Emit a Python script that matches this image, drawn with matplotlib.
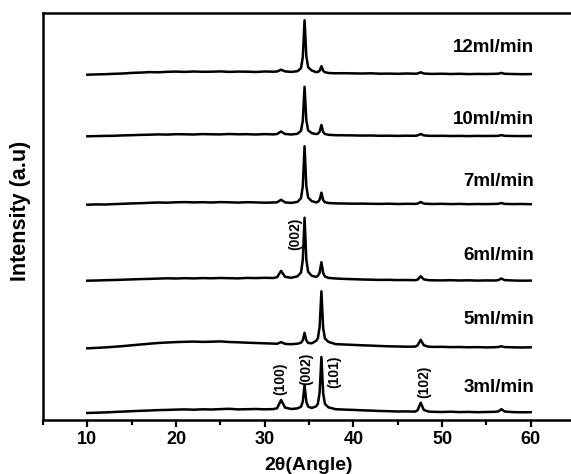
import matplotlib
matplotlib.use('Agg')  # Headless mode
import matplotlib.pyplot as plt
from matplotlib.ticker import MultipleLocator

plt.rcParams['font.family'] = ['Liberation Sans', 'DejaVu Sans']

# 2-theta grid (degrees) shared by every pattern
two_theta = [10, 11, 12, 13, 14, 15, 16, 17, 18, 19, 20, 21, 22, 23, 24, 25, 26, 27, 28, 29, 30, 31,
             31.4, 31.85, 32.3, 33.0, 33.7, 34.1, 34.3, 34.5, 34.7, 34.9, 35.3, 35.8, 36.0, 36.2,
             36.4, 36.6, 36.8, 37.2, 38.0,
             39, 40, 41, 42, 43, 44, 45, 46, 47,
             47.25, 47.6, 47.95, 48.5,
             49, 50, 51, 52, 53, 54, 55, 56,
             56.35, 56.7, 57.05,
             58, 59, 60]

flow_rates = ["3ml/min", "5ml/min", "6ml/min", "7ml/min", "10ml/min", "12ml/min"]

# intensities (a.u.), relative to each pattern's own baseline
i_3ml = [0, 0.3, 0.6, 1.0, 1.4, 1.8, 2.2, 2.5, 2.9, 3.1, 3.4, 3.6, 3.3, 3.7, 3.5, 3.9, 4.2, 3.6, 3.8, 4.0, 3.7, 3.9,
         4.8, 13, 5.4, 4.0, 4.6, 6.2, 11.5, 28, 11.2, 6.4, 5.0, 6.6, 9.2, 20.6,
         56, 19.6, 9.0, 5.6, 3.8,
         3.4, 3.1, 2.7, 2.4, 2.0, 1.8, 1.5, 1.6, 1.4,
         2.8, 10.3, 3.0, 1.4,
         1.2, 1.0, 1.3, 0.9, 1.1, 0.8, 1.0, 1.2,
         1.6, 3.8, 1.5,
         0.9, 0.7, 0.8]
i_5ml = [0, 0.4, 0.9, 1.5, 2.2, 3.0, 3.8, 4.6, 5.3, 5.8, 6.2, 6.5, 6.7, 6.4, 6.6, 6.9, 6.3, 6.0, 5.6, 5.3, 5.0, 4.7,
         4.5, 6.2, 4.4, 4.1, 4.6, 5.6, 8.0, 15.5, 7.8, 5.4, 5.0, 7.4, 10, 21.5,
         57, 20, 9.8, 6.4, 4.2,
         3.8, 3.4, 3.0, 2.7, 2.3, 2.0, 1.8, 1.6, 1.7,
         3.0, 8.5, 3.0, 1.6,
         1.4, 1.5, 1.2, 1.3, 1.0, 1.2, 0.9, 1.1,
         1.3, 2.0, 1.2,
         1.0, 0.8, 1.0]
i_6ml = [0, 0.2, 0.5, 0.7, 1.0, 1.3, 1.6, 1.8, 2.1, 2.4, 2.2, 2.5, 2.3, 2.6, 2.4, 2.7, 2.5, 2.3, 2.8, 2.6, 2.9, 2.7,
         3.5, 9.8, 3.9, 2.9, 4.4, 8.2, 21, 63, 21, 9, 5, 3.8, 4.8, 8,
         18.5, 7.6, 4.2, 2.8, 2.2,
         1.8, 1.5, 1.2, 1.0, 0.8, 0.9, 0.6, 0.7, 0.5,
         1.1, 4.5, 1.3, 0.5,
         0.4, 0.3, 0.5, 0.2, 0.4, 0.1, 0.3, 0.2,
         0.6, 2.2, 0.6,
         0.2, 0.0, 0.1]
i_7ml = [0, 0.3, 0.2, 0.6, 0.9, 1.3, 1.5, 1.9, 2.2, 2.0, 2.4, 2.6, 2.3, 2.5, 2.2, 2.6, 2.4, 2.1, 2.5, 2.3, 2.0, 2.2,
         2.4, 4.9, 2.3, 1.8, 2.8, 6.5, 18.5, 58.5, 18.6, 7.2, 3.6, 2.3, 2.8, 4.9,
         12, 4.6, 2.5, 1.7, 1.3,
         1.2, 1.0, 1.1, 0.9, 0.8, 1.0, 0.7, 0.9, 0.8,
         1.1, 2.7, 1.1, 0.8,
         0.7, 0.9, 0.6, 0.8, 0.5, 0.7, 0.6, 0.8,
         0.9, 1.7, 0.8,
         0.6, 0.7, 0.5]
i_10ml = [0, 0.2, 0.4, 0.5, 0.9, 1.1, 1.4, 1.6, 1.9, 1.7, 2.1, 2.0, 1.8, 2.2, 2.0, 1.9, 2.3, 2.0, 2.1, 1.8, 2.2, 1.9,
          2.3, 4.8, 2.3, 1.8, 2.5, 5.5, 15.5, 49.5, 16, 6.0, 3.2, 2.2, 2.6, 4.6,
          11.3, 4.3, 2.3, 1.5, 1.1,
          1.0, 0.9, 0.7, 0.8, 0.5, 0.6, 0.4, 0.6, 0.5,
          0.9, 2.3, 0.9, 0.5,
          0.4, 0.5, 0.3, 0.4, 0.2, 0.4, 0.3, 0.4,
          0.5, 1.2, 0.5,
          0.3, 0.2, 0.3]
i_12ml = [0, 0.3, 0.5, 0.9, 1.2, 1.8, 2.1, 2.6, 2.4, 2.9, 3.1, 2.8, 3.2, 2.9, 3.0, 3.3, 2.8, 3.1, 3.0, 2.7, 3.2, 3.0,
          3.2, 5.0, 3.3, 2.8, 3.5, 6.5, 17.5, 54.5, 18.5, 7.5, 4.2, 2.6, 2.7, 4.0,
          8.5, 4.0, 2.5, 1.7, 1.4,
          1.5, 1.3, 1.2, 1.4, 1.0, 1.1, 0.9, 1.2, 1.0,
          1.2, 2.4, 1.2, 0.9,
          0.8, 1.0, 0.7, 0.9, 0.6, 0.8, 0.7, 0.9,
          1.0, 1.8, 0.9,
          0.7, 0.5, 0.6]

patterns = [i_3ml, i_5ml, i_6ml, i_7ml, i_10ml, i_12ml]

# vertical stacking of the patterns
offsets = [7, 71.7, 139.3, 215.3, 283.7, 345.3]
label_y = [32, 100, 165, 238, 300, 372]

fig = plt.figure(figsize=(5.71, 4.74), dpi=100)
ax = fig.add_axes([43 / 571, 54 / 474, 532 / 571, 407 / 474])

for name, vals, off, ly in zip(flow_rates, patterns, offsets, label_y):
    ax.plot(two_theta, [v + off for v in vals], color='black', linewidth=1.8)
    ax.text(60.4, ly, name, ha='right', va='center', fontsize=13.5, fontweight='bold')

# Miller indices
hkl_style = dict(rotation=90, ha='center', va='center', fontsize=10, fontweight='bold')
ax.text(33.42, 186, "(002)", **hkl_style)
ax.text(31.72, 41, "(100)", **hkl_style)
ax.text(34.66, 51, "(002)", **hkl_style)
ax.text(37.83, 48, "(101)", **hkl_style)
ax.text(47.97, 38, "(102)", **hkl_style)

ax.set_xlim(5, 65)
ax.set_ylim(0, 407)
ax.xaxis.set_major_locator(MultipleLocator(10))
ax.xaxis.set_minor_locator(MultipleLocator(5))
ax.set_xticks([10, 20, 30, 40, 50, 60])
ax.set_yticks([])
ax.tick_params(axis='x', which='major', direction='out', length=5, width=1.6, pad=3, labelsize=13)
ax.tick_params(axis='x', which='minor', direction='out', length=3.5, width=1.6)
for lbl in ax.get_xticklabels():
    lbl.set_fontweight('bold')

for side in ['left', 'bottom', 'top', 'right']:
    ax.spines[side].set_linewidth(1.8)

ax.set_xlabel("2θ(Angle)", fontsize=14, fontweight='bold')
ax.xaxis.set_label_coords(0.5, -0.1106)
ax.xaxis.label.set_va('center')
ax.set_ylabel("Intensity (a.u)", fontsize=15.5, fontweight='bold')
ax.yaxis.set_label_coords(-0.0432, 0.5135)
ax.yaxis.label.set_va('center')

fig.savefig("out.png", dpi=100)
plt.close(fig)
